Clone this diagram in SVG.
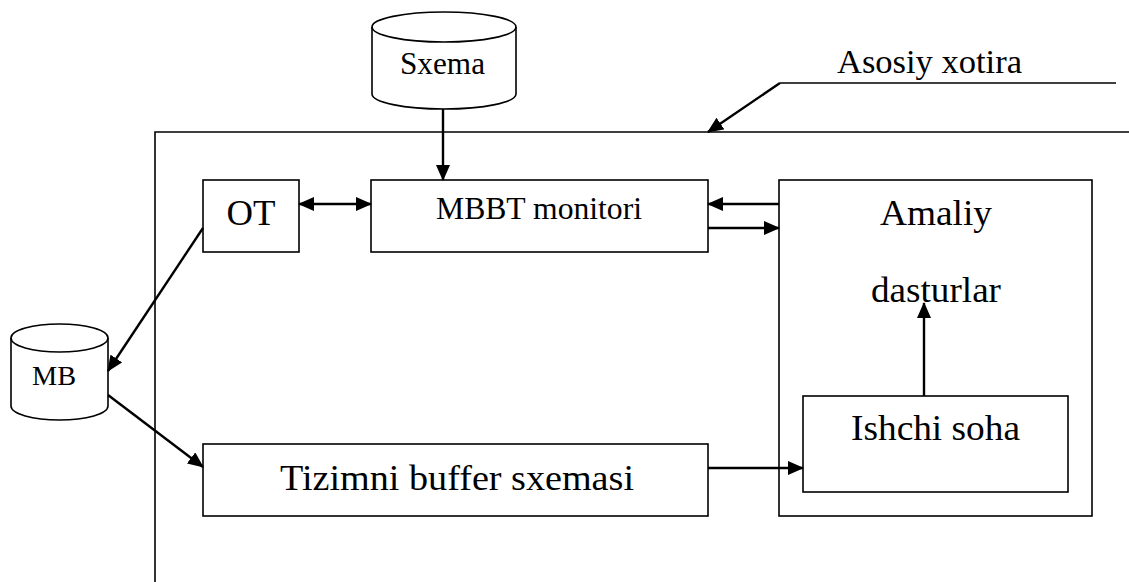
<svg xmlns="http://www.w3.org/2000/svg" width="1129" height="582" viewBox="0 0 1129 582">
  <style>
    .box { fill: #fff; stroke: #000; stroke-width: 1.6; }
    .frame { fill: none; stroke: #000; stroke-width: 1.6; }
    .wire { fill: none; stroke: #000; stroke-width: 2.4; }
    .t { font-family: "Liberation Serif", "Times New Roman", serif; fill: #000; text-anchor: middle; }
  </style>
  <defs>
    <marker id="head" markerUnits="userSpaceOnUse" markerWidth="16" markerHeight="14" refX="15" refY="7" orient="auto-start-reverse">
      <path d="M0,0 L16,7 L0,14 Z" fill="#000"/>
    </marker>
  </defs>

  <rect width="1129" height="582" fill="#fff"/>

  <!-- main memory frame -->
  <g id="main-memory">
    <path class="frame" d="M155,582 V132 H1129"/>
    <text class="t" x="929.5" y="73" font-size="33" textLength="185" lengthAdjust="spacingAndGlyphs">Asosiy xotira</text>
    <path class="frame" d="M1116,83 H780"/>
  </g>

  <!-- schema store -->
  <g id="sxema">
    <path class="box" d="M372,27 V94 A72,15 0 0 0 516,94 V27 A72,15 0 0 0 372,27 Z"/>
    <path class="frame" d="M372,27 A72,15 0 0 0 516,27"/>
    <text class="t" x="442.5" y="74" font-size="31" textLength="85" lengthAdjust="spacingAndGlyphs">Sxema</text>
  </g>

  <!-- database -->
  <g id="mb">
    <path class="box" d="M11,338 V406 A48.5,14 0 0 0 108,406 V338 A48.5,14 0 0 0 11,338 Z"/>
    <path class="frame" d="M11,338 A48.5,14 0 0 0 108,338"/>
    <text class="t" x="54" y="385" font-size="28" textLength="44" lengthAdjust="spacingAndGlyphs">MB</text>
  </g>

  <g id="ot">
    <rect class="box" x="203" y="180" width="96" height="72"/>
    <text class="t" x="251" y="225" font-size="36" textLength="49" lengthAdjust="spacingAndGlyphs">OT</text>
  </g>

  <g id="mbbt-monitor">
    <rect class="box" x="371" y="180" width="337" height="72"/>
    <text class="t" x="539" y="219" font-size="32" textLength="206" lengthAdjust="spacingAndGlyphs">MBBT monitori</text>
  </g>

  <g id="buffer">
    <rect class="box" x="203" y="444" width="505" height="72"/>
    <text class="t" x="457" y="490" font-size="36" textLength="354" lengthAdjust="spacingAndGlyphs">Tizimni buffer sxemasi</text>
  </g>

  <g id="amaliy">
    <rect class="box" x="779" y="180" width="313" height="336"/>
    <text class="t" x="936" y="225" font-size="36" textLength="112" lengthAdjust="spacingAndGlyphs">Amaliy</text>
    <text class="t" x="936" y="302" font-size="36" textLength="130" lengthAdjust="spacingAndGlyphs">dasturlar</text>
  </g>

  <g id="ishchi">
    <rect class="box" x="803" y="396" width="265" height="96"/>
    <text class="t" x="935.5" y="440" font-size="36" textLength="169" lengthAdjust="spacingAndGlyphs">Ishchi soha</text>
  </g>

  <!-- connectors -->
  <g id="connectors">
    <path class="wire" d="M780,83 L708,132" marker-end="url(#head)"/>
    <path class="wire" d="M443,109 V180" marker-end="url(#head)"/>
    <path class="wire" d="M299,204 H371" marker-start="url(#head)" marker-end="url(#head)"/>
    <path class="wire" d="M779,204 H708" marker-end="url(#head)"/>
    <path class="wire" d="M708,228 H779" marker-end="url(#head)"/>
    <path class="wire" d="M203,228 L108,371" marker-end="url(#head)"/>
    <path class="wire" d="M108,395 L203,467" marker-end="url(#head)"/>
    <path class="wire" d="M708,468 H803" marker-end="url(#head)"/>
    <path class="wire" d="M924,396 V303" marker-end="url(#head)"/>
  </g>
</svg>
